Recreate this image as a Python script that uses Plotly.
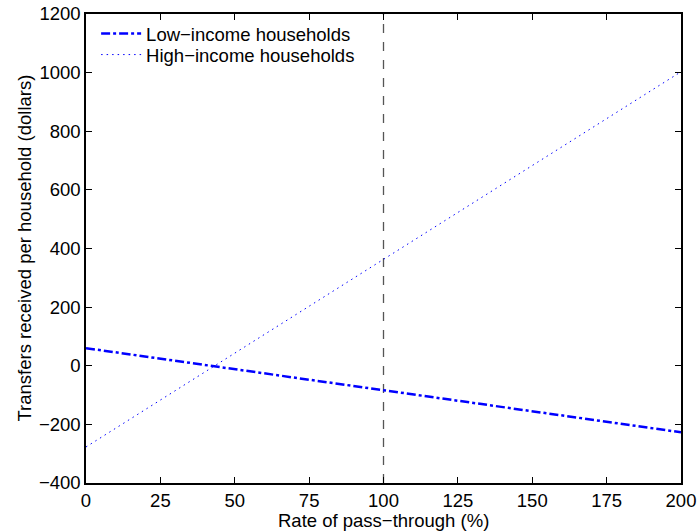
import plotly.graph_objects as go

pass_through = [0, 200]
low_income = [60, -227]
high_income = [-277, 1003]
ref_x = [100, 100]
ref_y = [-400, 1200]
x_ticks = [0, 25, 50, 75, 100, 125, 150, 175, 200]
y_ticks = [-400, -200, 0, 200, 400, 600, 800, 1000, 1200]

FONT = "Liberation Sans, Arial, Helvetica"
FS = 18.5

fig = go.Figure()
fig.add_trace(go.Scatter(x=ref_x, y=ref_y, mode="lines", showlegend=False,
                         line=dict(color="#555555", width=1.3, dash="dash")))
fig.add_trace(go.Scatter(x=pass_through, y=low_income, mode="lines",
                         name="Low\u2212income households", legend="legend",
                         line=dict(color="#0000FF", width=2.5, dash="dashdot")))
fig.add_trace(go.Scatter(x=pass_through, y=high_income, mode="lines",
                         name="High\u2212income households", legend="legend2",
                         line=dict(color="#0000FF", width=1, dash="1.5px,4px")))

axis_common = dict(showgrid=False, zeroline=False, showline=True, linecolor="black",
                   linewidth=1.5, mirror="allticks", ticks="inside", ticklen=6,
                   tickcolor="black", automargin=False, ticklabeloverflow="allow",
                   tickfont=dict(family=FONT, size=FS, color="black"))

fig.update_xaxes(range=[0, 200], tickvals=x_ticks, **axis_common)
fig.update_yaxes(range=[-400, 1200], tickvals=y_ticks, **axis_common)

fig.add_annotation(text="Rate of pass\u2212through (%)", xref="paper", yref="paper",
                   x=0.5, y=0, xanchor="center", yanchor="middle", yshift=-37,
                   showarrow=False, font=dict(family=FONT, size=FS, color="black"))
fig.add_annotation(text="Transfers received per household (dollars)", xref="paper", yref="paper",
                   x=0, y=0.5, xanchor="center", yanchor="middle", xshift=-62, textangle=-90,
                   showarrow=False, font=dict(family=FONT, size=FS, color="black"))

legend_common = dict(xanchor="left", yanchor="top", bgcolor="rgba(255,255,255,0)",
                     borderwidth=0, itemwidth=40,
                     font=dict(family=FONT, size=FS, color="black"))

fig.update_layout(
    width=699, height=532,
    margin=dict(l=86, r=18, t=14, b=49),
    plot_bgcolor="white", paper_bgcolor="white",
    font=dict(family=FONT, size=FS, color="black"),
    legend=dict(x=0.017, y=0.998, **legend_common),
    legend2=dict(x=0.017, y=0.953, **legend_common),
)

fig.write_html("out.html", config={"displayModeBar": False},
               post_script="document.body.style.margin='0';document.body.style.overflow='hidden';")
